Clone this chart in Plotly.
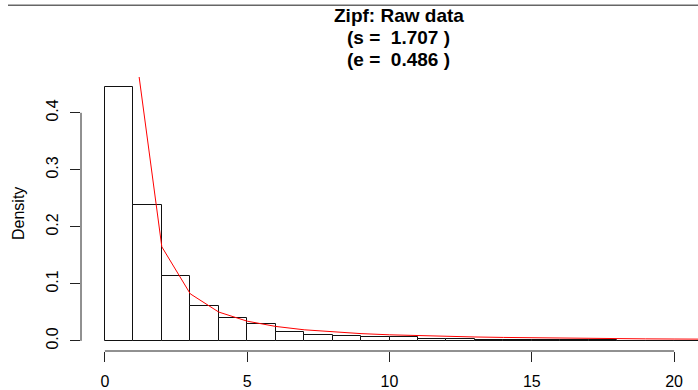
import plotly.graph_objects as go

# Histogram of the raw data: unit-width bins starting at 0, density scale
bin_left = [0, 1, 2, 3, 4, 5, 6, 7, 8, 9, 10, 11, 12, 13, 14, 15, 16, 17, 18, 19, 20]
density = [0.445, 0.238, 0.114, 0.062, 0.040, 0.029, 0.0156, 0.0099, 0.0081, 0.0069,
           0.0064, 0.0030, 0.0030, 0.0015, 0.0012, 0.0010, 0.0008, 0.0007, 0.0006,
           0.0005, 0.0005]

# Fitted Zipf probabilities at k = 1, 2, ...
fit_k = [1, 2, 3, 4, 5, 6, 7, 8, 9, 10, 11, 12, 13, 14, 15, 16, 17, 18, 19, 20, 21, 22]
fit_p = [0.5385, 0.165, 0.0825, 0.0505, 0.0345, 0.0253, 0.0194, 0.0155, 0.0127,
         0.0106, 0.0090, 0.0077, 0.0068, 0.0060, 0.0053, 0.0047, 0.0043, 0.0039,
         0.0035, 0.0032, 0.0030, 0.0028]

x_ticks = [0, 5, 10, 15, 20]
y_ticks = [0.0, 0.1, 0.2, 0.3, 0.4]
y_tick_text = ["0.0", "0.1", "0.2", "0.3", "0.4"]

title_lines = ["<b>Zipf: Raw data</b>",
               "<b>(s =\u00a0 1.707 )</b>",
               "<b>(e =\u00a0 0.486 )</b>"]

FONT = "Liberation Sans, Arial, Helvetica, sans-serif"
AX = "#222222"

fig = go.Figure()
fig.add_trace(go.Bar(
    x=[b + 0.5 for b in bin_left], y=density, width=1,
    marker=dict(color="white", line=dict(color="#111111", width=1)),
    hoverinfo="skip", showlegend=False,
))
fig.add_trace(go.Scatter(
    x=fit_k, y=fit_p, mode="lines",
    line=dict(color="#ff0000", width=1), showlegend=False,
))

W, H = 698, 390
ml, mt, mb = 81, 77, 36
pw, ph = W - ml, H - mt - mb


def px_x(x):
    return (x - ml) / pw


def px_y(y):
    return (H - mb - y) / ph


fig.update_layout(
    width=W, height=H,
    margin=dict(l=ml, r=0, t=mt, b=mb, pad=0),
    paper_bgcolor="white", plot_bgcolor="white",
    font=dict(family=FONT, size=16, color="black"),
    bargap=0,
    xaxis=dict(range=[-0.84, 20.84], showgrid=False, zeroline=False, showline=False,
               tickmode="array", tickvals=x_ticks, ticks="outside", ticklen=10,
               tickwidth=1, tickcolor=AX, ticklabelstandoff=6,
               tickfont=dict(size=16, family=FONT, color="black")),
    yaxis=dict(range=[-0.0178, 0.4628], showgrid=False, zeroline=False, showline=False,
               tickmode="array", tickvals=y_ticks, ticktext=y_tick_text,
               ticks="outside", ticklen=10, tickwidth=1, tickcolor=AX,
               tickangle=-90, ticklabelstandoff=6,
               tickfont=dict(size=16, family=FONT, color="black")),
    shapes=[
        # axis lines spanning only the labelled tick range
        dict(type="line", xref="paper", yref="y", x0=0, x1=0, y0=0, y1=0.4,
             line=dict(color=AX, width=1)),
        dict(type="line", xref="x", yref="paper", x0=0, x1=20, y0=0, y1=0,
             line=dict(color=AX, width=1)),
        # thin rule across the top of the page
        dict(type="line", xref="paper", yref="paper", x0=px_x(8), x1=1.0,
             y0=px_y(4.5), y1=px_y(4.5), line=dict(color="#666666", width=1.5)),
    ],
)

for text, yc in zip(title_lines, [15, 37, 59]):
    fig.add_annotation(text=text, xref="paper", yref="paper", x=px_x(399), y=px_y(yc),
                       xanchor="center", yanchor="middle", showarrow=False,
                       font=dict(size=19, family=FONT, color="black"))

fig.add_annotation(text="Density", xref="paper", yref="paper", x=px_x(18), y=0.5,
                   xanchor="center", yanchor="middle", textangle=-90, showarrow=False,
                   font=dict(size=16, family=FONT, color="black"))

fig.write_html("out.html")
